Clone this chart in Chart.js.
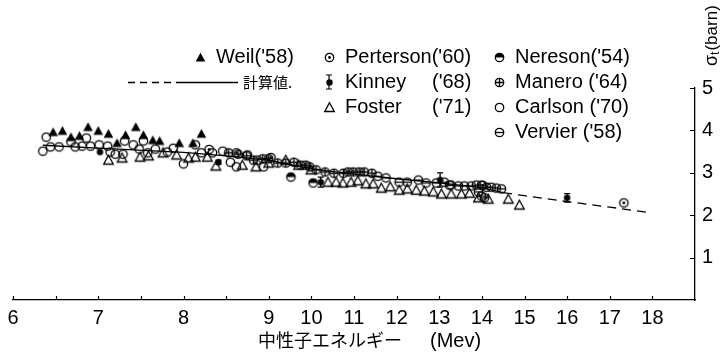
<!DOCTYPE html>
<html>
<head>
<meta charset="utf-8">
<script src="https://cdn.jsdelivr.net/npm/chart.js@4/dist/chart.umd.min.js"></script>
<style>
  html, body { margin: 0; padding: 0; background: #fff; }
  #wrap { width: 724px; height: 356px; position: relative; }
</style>
</head>
<body>
<div id="wrap"><canvas id="chart" width="724" height="356"></canvas></div>
<script>
// Total neutron cross section vs. neutron energy

// axis ticks
const energyTicks      = [6, 6.5, 7, 7.5, 8, 8.5, 9, 10, 11, 12, 13, 14, 15, 16, 17, 18];
const energyTickLabels = ['6', '', '7', '', '8', '', '9', '10', '11', '12', '13', '14', '15', '16', '17', '18'];
const sigmaTicks       = [0, 1, 2, 3, 4, 5];
const sigmaTickLabels  = ['', '1', '2', '3', '4', '5'];

// calculated curve (solid part, then extrapolated dashed part)
const calcE      = [6.35, 7, 8, 8.5, 9, 9.5, 10, 10.5, 11, 12, 13, 14, 14.5];
const calcSigma  = [3.65, 3.58, 3.48, 3.40, 3.30, 3.19, 3.10, 3.03, 2.97, 2.86, 2.76, 2.65, 2.53];
const extraE     = [14.5, 15, 16, 17, 17.95];
const extraSigma = [2.53, 2.46, 2.32, 2.19, 2.06];

// Weil ('58)
const weilE     = [6.47, 6.58, 6.68, 6.78, 6.88, 7.00, 7.12, 7.22, 7.32, 7.44, 7.53, 7.64, 7.72, 7.95, 8.11, 8.21];
const weilSigma = [3.96, 3.99, 3.84, 3.87, 4.08, 3.99, 3.92, 3.70, 3.89, 4.08, 3.89, 3.77, 3.75, 3.70, 3.70, 3.92];

// Perterson ('60)
const pertersonE     = [8.30, 8.62, 9.05, 14.02, 17.33];
const pertersonSigma = [3.55, 3.47, 3.36, 2.70, 2.29];

// Kinney ('68) with error half-widths
const kinneyE     = [7.02, 8.41, 10.22, 13.02, 16.0];
const kinneySigma = [3.49, 3.25, 2.78, 2.83, 2.41];
const kinneyErr   = [0, 0.05, 0.12, 0.17, 0.10];

// Foster ('71)
const fosterE = [7.12, 7.28, 7.49, 7.59, 7.76, 7.92, 8.06, 8.14, 8.28, 8.38, 8.69, 8.85, 9.00, 9.40, 9.70, 9.99,
                 10.39, 10.58, 10.74, 10.93, 11.09, 11.28, 11.45, 11.64, 11.85, 12.06, 12.25, 12.46, 12.65, 12.86, 13.05,
                 13.28, 13.52, 13.71, 13.92, 14.15, 14.62, 14.88];
const fosterSigma = [3.30, 3.35, 3.37, 3.40, 3.47, 3.42, 3.35, 3.37, 3.37, 3.16, 3.18, 3.14, 3.23, 3.30, 3.18, 3.07,
                     2.78, 2.78, 2.76, 2.78, 2.81, 2.74, 2.74, 2.64, 2.67, 2.59, 2.62, 2.59, 2.57, 2.55, 2.50,
                     2.50, 2.50, 2.52, 2.41, 2.38, 2.38, 2.24];

// Nereson ('54)
const neresonE     = [9.52, 10.04];
const neresonSigma = [2.90, 2.76];

// Manero ('64)
const maneroE = [8.53, 8.64, 8.74, 8.82, 8.93, 9.00, 9.21, 9.40, 9.59, 9.75, 9.87, 9.96, 10.11, 10.32, 10.53, 10.75, 10.86,
                 10.98, 11.12, 11.24, 11.42];
const maneroSigma = [3.47, 3.44, 3.40, 3.30, 3.33, 3.33, 3.23, 3.23, 3.25, 3.18, 3.18, 3.14, 3.07, 3.02, 2.99, 2.99, 3.02,
                     3.02, 3.02, 3.02, 2.99];

// Carlson ('70)
const carlsonE = [6.35, 6.39, 6.44, 6.54, 6.68, 6.73, 6.81, 6.86, 6.91, 7.01, 7.11, 7.14, 7.20, 7.29, 7.31, 7.41, 7.48,
                  7.53, 7.58, 7.67, 7.81, 7.88, 8.00, 8.14, 8.21, 8.34, 8.46, 8.55, 8.62, 8.75, 8.87, 8.94];
const carlsonSigma = [3.51, 3.84, 3.61, 3.61, 3.73, 3.61, 3.63, 3.82, 3.63, 3.66, 3.63, 3.49, 3.44, 3.44, 3.75, 3.66, 3.56,
                      3.75, 3.47, 3.56, 3.49, 3.58, 3.21, 3.66, 3.47, 3.47, 3.51, 3.25, 3.14, 3.42, 3.30, 3.14];

// Vervier ('58)
const vervierE = [11.56, 11.75, 12.06, 12.25, 12.51, 12.69, 12.93, 13.12, 13.24, 13.28, 13.45, 13.59, 13.75, 13.87, 13.99,
                  14.11, 14.22, 14.34, 14.46, 13.92, 13.99, 14.06];
const vervierSigma = [2.92, 2.88, 2.78, 2.78, 2.83, 2.76, 2.76, 2.78, 2.71, 2.71, 2.69, 2.69, 2.69, 2.71, 2.71,
                      2.66, 2.66, 2.64, 2.62, 2.55, 2.45, 2.41];

const pts = (xs, ys) => xs.map((x, i) => ({ x: x, y: ys[i] }));

// Energy axis: below 9 MeV one unit takes twice the length it takes above 9 MeV
const BEND = 9;
const bend = e => (e <= BEND ? 2 * e : BEND + e);
const unbend = u => (u <= 2 * BEND ? u / 2 : u - BEND);

class SplitLinearScale extends Chart.LinearScale {
  getPixelForValue(value) {
    const a = bend(this.min), b = bend(this.max);
    return this.getPixelForDecimal((bend(value) - a) / (b - a));
  }
  getValueForPixel(pixel) {
    const a = bend(this.min), b = bend(this.max);
    return unbend(a + this.getDecimalForPixel(pixel) * (b - a));
  }
}
SplitLinearScale.id = 'splitLinear';
SplitLinearScale.defaults = Chart.LinearScale.defaults;
Chart.register(SplitLinearScale);

// marker glyphs
function marker(kind) {
  const s = 13, m = s / 2, r = 4.2;
  const c = document.createElement('canvas');
  c.width = s; c.height = s;
  const g = c.getContext('2d');
  g.strokeStyle = '#000'; g.fillStyle = '#000'; g.lineWidth = 1.3;
  const ring = () => { g.beginPath(); g.arc(m, m, r, 0, Math.PI * 2); g.stroke(); };
  const tri = () => { g.beginPath(); g.moveTo(m, m - r - 0.6); g.lineTo(m + r + 0.6, m + r - 0.2); g.lineTo(m - r - 0.6, m + r - 0.2); g.closePath(); };
  switch (kind) {
    case 'ring': ring(); break;
    case 'dot': ring(); g.beginPath(); g.arc(m, m, 1.4, 0, Math.PI * 2); g.fill(); break;
    case 'plus': ring(); g.beginPath(); g.moveTo(m - r, m); g.lineTo(m + r, m); g.moveTo(m, m - r); g.lineTo(m, m + r); g.stroke(); break;
    case 'minus': ring(); g.beginPath(); g.moveTo(m - r, m); g.lineTo(m + r, m); g.stroke(); break;
    case 'half': ring(); g.beginPath(); g.arc(m, m, r, Math.PI, 0); g.closePath(); g.fill(); break;
    case 'tri': tri(); g.stroke(); break;
    case 'triFill': tri(); g.fill(); break;
    case 'disc': g.beginPath(); g.arc(m, m, 3.2, 0, Math.PI * 2); g.fill(); break;
  }
  return c;
}

const BLACK = '#000';
const TEXT_FONT = '"Liberation Sans Narrow", "Liberation Sans", Arial, sans-serif';
const CJK_FONT = '"Noto Sans CJK JP", "Noto Sans CJK SC", sans-serif';

function series(key, label, xs, ys, kind) {
  return { key, label, data: pts(xs, ys), showLine: false, pointStyle: marker(kind), pointRadius: 5,
           pointHoverRadius: 5, borderColor: BLACK, backgroundColor: BLACK, order: 1 };
}

const datasets = [
  { key: 'calc', label: '計算値', data: pts(calcE, calcSigma), showLine: true, pointRadius: 0,
    borderColor: BLACK, borderWidth: 1.3, order: 5 },
  { key: 'extra', label: '計算値 (extrapolated)', data: pts(extraE, extraSigma), showLine: true, pointRadius: 0,
    borderColor: BLACK, borderWidth: 1.3, borderDash: [9, 6], order: 5 },
  series('weil', "Weil('58)", weilE, weilSigma, 'triFill'),
  series('perterson', "Perterson('60)", pertersonE, pertersonSigma, 'dot'),
  series('kinney', "Kinney\t('68)", kinneyE, kinneySigma, 'disc'),
  series('foster', "Foster\t('71)", fosterE, fosterSigma, 'tri'),
  series('nereson', "Nereson('54)", neresonE, neresonSigma, 'half'),
  series('manero', "Manero ('64)", maneroE, maneroSigma, 'plus'),
  series('carlson', "Carlson ('70)", carlsonE, carlsonSigma, 'ring'),
  series('vervier', "Vervier ('58)", vervierE, vervierSigma, 'minus')
];

// Kinney error bars
const errorBars = {
  id: 'errorBars',
  afterDatasetsDraw(chart) {
    const i = chart.data.datasets.findIndex(d => d.key === 'kinney');
    const y = chart.scales.y, meta = chart.getDatasetMeta(i), ctx = chart.ctx;
    ctx.save();
    ctx.strokeStyle = BLACK; ctx.lineWidth = 1.3;
    meta.data.forEach((p, k) => {
      const e = kinneyErr[k];
      if (!e) return;
      const y1 = y.getPixelForValue(kinneySigma[k] + e), y2 = y.getPixelForValue(kinneySigma[k] - e);
      ctx.beginPath();
      ctx.moveTo(p.x, y1); ctx.lineTo(p.x, y2);
      ctx.moveTo(p.x - 3, y1); ctx.lineTo(p.x + 3, y1);
      ctx.moveTo(p.x - 3, y2); ctx.lineTo(p.x + 3, y2);
      ctx.stroke();
    });
    ctx.restore();
  }
};

// inward tick marks, legend block and axis titles
const decorations = {
  id: 'decorations',
  afterDraw(chart) {
    const ctx = chart.ctx, xs = chart.scales.x, ys = chart.scales.y, area = chart.chartArea;
    ctx.save();
    ctx.strokeStyle = BLACK; ctx.fillStyle = BLACK; ctx.lineWidth = 1.2;
    ctx.beginPath();
    energyTicks.forEach(v => { const px = Math.round(xs.getPixelForValue(v)) + 0.5; ctx.moveTo(px, area.bottom); ctx.lineTo(px, area.bottom - 4); });
    sigmaTicks.slice(1).forEach(v => { const py = Math.round(ys.getPixelForValue(v)) + 0.5; ctx.moveTo(area.right, py); ctx.lineTo(area.right - 5, py); });
    ctx.stroke();

    // legend
    const byKey = k => chart.data.datasets.find(d => d.key === k);
    const entries = [
      ['weil', 200, 57], ['perterson', 329, 57], ['nereson', 499, 57],
      ['kinney', 329, 82], ['manero', 499, 82],
      ['foster', 329, 107], ['carlson', 499, 107],
      ['vervier', 499, 132]
    ];
    ctx.font = '20px ' + TEXT_FONT;
    ctx.textBaseline = 'middle';
    ctx.textAlign = 'left';
    entries.forEach(([k, x, y]) => {
      const ds = byKey(k);
      if (k === 'kinney') {
        ctx.beginPath();
        ctx.moveTo(x, y - 7); ctx.lineTo(x, y + 7);
        ctx.moveTo(x - 3, y - 7); ctx.lineTo(x + 3, y - 7);
        ctx.moveTo(x - 3, y + 7); ctx.lineTo(x + 3, y + 7);
        ctx.stroke();
      }
      const img = ds.pointStyle;
      ctx.drawImage(img, Math.round(x - img.width / 2), Math.round(y - img.height / 2));
      const [name, year] = ds.label.split('\t');
      ctx.fillText(name, x + 16, y);
      if (year) ctx.fillText(year, 432, y);
    });
    // calculated-curve legend line
    ctx.lineWidth = 1.3;
    ctx.beginPath();
    ctx.setLineDash([7, 5]);
    ctx.moveTo(128, 82.5); ctx.lineTo(182, 82.5);
    ctx.stroke();
    ctx.setLineDash([]);
    ctx.beginPath();
    ctx.moveTo(182, 82.5); ctx.lineTo(238, 82.5);
    ctx.stroke();
    ctx.font = '15px ' + CJK_FONT;
    ctx.fillText(byKey('calc').label + '.', 243, 82);

    // x-axis title
    ctx.font = '18px ' + CJK_FONT;
    ctx.fillText('中性子エネルギー', 258, 340);
    ctx.font = '20px ' + TEXT_FONT;
    ctx.fillText('(Mev)', 430, 341);

    // y-axis title, rotated
    ctx.translate(712, 66);
    ctx.rotate(-Math.PI / 2);
    ctx.font = '18px ' + TEXT_FONT;
    ctx.fillText('σ', 0, 0);
    let w = ctx.measureText('σ').width;
    ctx.font = '12px ' + TEXT_FONT;
    ctx.fillText('t', w, 4);
    w += ctx.measureText('t').width + 1;
    ctx.font = '17px ' + TEXT_FONT;
    ctx.fillText('(barn)', w, 0);
    ctx.restore();
  }
};

new Chart(document.getElementById('chart'), {
  type: 'scatter',
  data: { datasets },
  options: {
    responsive: false,
    animation: false,
    layout: { padding: { left: 13, top: 88, right: 0, bottom: 0 } },
    plugins: { legend: { display: false }, tooltip: { enabled: false } },
    scales: {
      x: {
        type: 'splitLinear',
        position: 'bottom',
        min: 6, max: 19,
        grid: { display: false, drawTicks: false },
        border: { display: true, color: BLACK, width: 1.3 },
        afterBuildTicks: s => { s.ticks = energyTicks.map(v => ({ value: v })); },
        afterFit: s => { s.height = 56; },
        ticks: {
          autoSkip: false, maxRotation: 0, padding: 6, color: BLACK,
          font: { family: TEXT_FONT, size: 20 },
          callback: (v, i) => energyTickLabels[i]
        }
      },
      y: {
        type: 'linear',
        position: 'right',
        min: 0, max: 5,
        grid: { display: false, drawTicks: false },
        border: { display: true, color: BLACK, width: 1.3 },
        afterBuildTicks: s => { s.ticks = sigmaTicks.map(v => ({ value: v })); },
        afterFit: s => { s.width = 29; },
        ticks: {
          padding: 7, color: BLACK,
          font: { family: TEXT_FONT, size: 20 },
          callback: (v, i) => sigmaTickLabels[i]
        }
      }
    }
  },
  plugins: [errorBars, decorations]
});
</script>
</body>
</html>
